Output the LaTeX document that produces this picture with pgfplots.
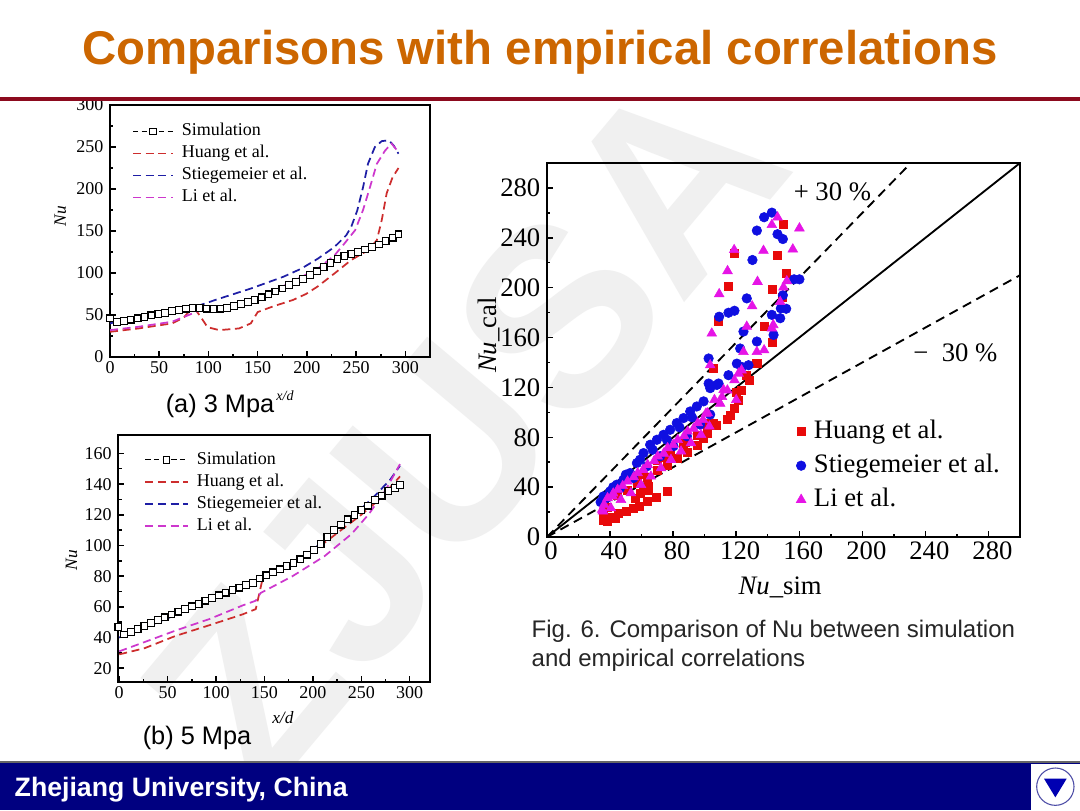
\documentclass[border=0pt]{standalone}
\usepackage{fontspec}
\setmainfont{Liberation Serif}
\newfontfamily\arial{Liberation Sans}
\usepackage{pgfplots}
\pgfplotsset{compat=1.18}
\definecolor{titleor}{RGB}{204,102,0}
\definecolor{rulered}{RGB}{140,10,30}
\definecolor{navyb}{RGB}{0,0,128}
\definecolor{cred}{RGB}{205,45,45}
\definecolor{cblue}{RGB}{30,30,165}
\definecolor{cmag}{RGB}{205,55,205}
\definecolor{sred}{RGB}{232,10,10}
\definecolor{sblue}{RGB}{15,15,225}
\definecolor{smag}{RGB}{230,20,230}
\pgfplotsset{
  panel/.style={scale only axis, axis line style={line width=1.4pt},
    tick align=inside, xtick pos=left, ytick pos=left,
    major tick length=4.5pt, minor tick length=2.5pt,
    tick style={black, line width=1.1pt},
    /pgf/number format/assume math mode=true,
    tick label style={font=\fontsize{13.5}{14}\selectfont},
    yticklabel style={xshift=-1.5pt},
    legend cell align=left,
    legend style={draw=none, fill=none, font=\fontsize{13.5}{16}\selectfont,
      anchor=north west, row sep=2pt, nodes={inner sep=1pt, text height=9.5pt, text depth=3pt},
      /tikz/every odd column/.append style={column sep=5pt}},
  },
  dsh/.style={line width=1.3pt, dash pattern=on 6pt off 3.5pt},
  simst/.style={black, line width=0.8pt, dash pattern=on 4pt off 2.5pt, mark=square*, mark size=2.5pt, mark options={solid, fill=white, draw=black, line width=0.9pt}},
}
\begin{document}
\begin{tikzpicture}
\useasboundingbox (0,0) rectangle (810pt,-607.5pt);
\fill[white] (0,0) rectangle (810pt,-607.5pt);
% watermark
\node[rotate=50, text=black!6, font=\arial\bfseries\fontsize{190}{190}\selectfont] at (348pt,-322pt) {ZJUSA};

% ---------------- (b) 5 MPa
\begin{axis}[panel, at={(88.7pt,-511.5pt)}, anchor=south west, width=233.8pt, height=185.25pt,
  xmin=-1, xmax=321, ymin=11, ymax=172,
  xtick={0,50,...,300}, ytick={20,40,...,160}, minor tick num=1,
  ylabel={\textit{Nu}}, ylabel style={at={(axis description cs:-0.15,0.494)}, anchor=center, font=\fontsize{13}{14}\selectfont},
  xlabel={\textit{x/d}}, xlabel style={at={(axis description cs:0.528,-0.142)}, anchor=center, font=\fontsize{13}{14}\selectfont},
  legend style={at={(axis description cs:0.07,0.95)}},
  legend image code/.code={\draw[#1] (0pt,0pt) -- (32pt,0pt); \draw[#1, only marks] plot coordinates {(16pt,0pt)};},
]
\addplot[simst] coordinates {(-1,47)(5,42)(12,43.5)(19,45.5)(26,47.5)(33,49.5)(40,51.5)(47,53.2)(54,55)(61,56.8)(68,58.5)(75,60.3)(82,62)(89,64)(96,65.8)(103,67.5)(110,69.2)(117,71)(124,72.5)(131,74.3)(138,75.5)(145,78.5)(152,80.5)(159,82.5)(166,84.5)(173,86.5)(180,88.5)(187,91)(194,94)(201,97)(208,101)(215,105.5)(222,110)(229,113.5)(236,117)(243,120)(250,123)(257,126)(264,129.5)(271,132.5)(278,135.5)(285,137.5)(290,139.5)};
\addlegendentry{Simulation}
\addplot[color=cred, dsh] coordinates {(0,29)(26,33)(58,41)(93,48)(127,55)(141,58.5)(148,78)(160,83)(180,89)(200,96)(225,108)(250,120)(265,128)(280,138)(290,145)};
\addlegendentry{Huang et al.}
\addplot[color=cblue, dsh] coordinates {(0,40)(26,46.5)(50,52.5)(75,59.5)(100,66.5)(125,73)(145,78.5)(175,87.5)(200,97)(225,111)(250,124)(265,133)(280,143)(290,152)};
\addlegendentry{Stiegemeier et al.}
\addplot[color=cmag, dsh] coordinates {(0,31)(26,37)(58.5,44.6)(93,52)(127,60.8)(141,64)(146,69)(179,80)(212,93)(240,107.5)(258,120.6)(275,136)(290,153)};
\addlegendentry{Li et al.}
\end{axis}

% ---------------- (a) 3 MPa
\begin{axis}[panel, at={(82.5pt,-267.75pt)}, anchor=south west, width=240pt, height=189pt,
  xmin=0, xmax=325, ymin=0, ymax=300,
  xtick={0,50,...,300}, ytick={0,50,...,300}, minor tick num=1,
  ylabel={\textit{Nu}}, ylabel style={at={(axis description cs:-0.155,0.56)}, anchor=center, font=\fontsize{13}{14}\selectfont},
  xlabel={\textit{x/d}}, xlabel style={at={(axis description cs:0.547,-0.155)}, anchor=center, font=\fontsize{10.5}{12}\selectfont},
  legend style={at={(axis description cs:0.056,0.945)}},
]
\addplot[simst, forget plot] coordinates {(0,46)(7,41.5)(14,43)(21,44.5)(28,46)(35,47.5)(42,49.5)(49,51)(56,52.5)(63,54.5)(70,56)(77,57.5)(84,58.5)(91,58.5)(98,57.5)(105,57)(112,57.5)(119,58.5)(126,60.5)(133,63)(140,65.5)(147,68)(154,71)(161,74.5)(168,78)(175,81.5)(182,85.5)(189,89.5)(196,93)(203,97.5)(210,102)(217,107)(224,112)(231,116.5)(238,120)(245,122.5)(252,125)(259,128)(266,131)(273,134)(280,138)(287,142)(293,146)};
\addplot[color=cred, dsh, forget plot] coordinates {(0,30)(29,34)(63,40)(75,47)(80,54)(87,56)(92,48)(99,35.5)(111,32)(131,34)(143,40)(150,53.5)(165,60)(186,68)(199,75)(211,84)(228,99.5)(245,115.5)(262,127)(271,139)(276,163)(281,195)(287,214)(293,225)};
\addplot[color=cblue, dsh, forget plot] coordinates {(0,40)(29,48)(63,56)(92,62)(111,69.5)(143,81.5)(176,95.5)(194,105)(211,117)(228,131)(240,145)(245,155)(251,174)(257,202)(262,230)(269,250)(276,257)(283,258)(288,252)(293,242)};
\addplot[color=cmag, dsh, forget plot] coordinates {(0,32)(29,36)(63,42)(80,50)(90,55)(100,56.5)(130,63)(160,75)(194,95)(211,105)(228,121)(238,135)(249,151)(257,175)(264,202)(271,230)(279.5,246)(286,254)(293,244)};
\addlegendimage{legend image code/.code={\draw[black, line width=0.8pt, dash pattern=on 4pt off 2.5pt] (0pt,0pt) -- (30pt,0pt); \draw[black, line width=0.9pt, fill=white] (12.5pt,-2.5pt) rectangle (17.5pt,2.5pt);}}
\addlegendentry{Simulation}
\addlegendimage{legend image code/.code={\draw[draw=cred, line width=1.3pt, dash pattern=on 6pt off 3.5pt] (0pt,0pt) -- (30pt,0pt);}}
\addlegendentry{Huang et al.}
\addlegendimage{legend image code/.code={\draw[draw=cblue, line width=1.3pt, dash pattern=on 6pt off 3.5pt] (0pt,0pt) -- (30pt,0pt);}}
\addlegendentry{Stiegemeier et al.}
\addlegendimage{legend image code/.code={\draw[draw=cmag, line width=1.3pt, dash pattern=on 6pt off 3.5pt] (0pt,0pt) -- (30pt,0pt);}}
\addlegendentry{Li et al.}
\end{axis}

% ---------------- (c) scatter
\begin{axis}[panel, at={(410.25pt,-402.75pt)}, anchor=south west, width=354.75pt, height=280.5pt,
  xmin=0, xmax=300, ymin=0, ymax=300,
  xtick={0,40,...,280}, ytick={0,40,...,280}, minor tick num=1,
  tick label style={font=\fontsize{20}{22}\selectfont},
  xticklabel style={xshift=3pt},
  xlabel={\textit{Nu}\_sim}, ylabel={\textit{Nu}\_cal},
  label style={font=\fontsize{20}{22}\selectfont},
  xlabel style={at={(axis description cs:0.493,-0.136)}, anchor=center},
  ylabel style={at={(axis description cs:-0.123,0.54)}, anchor=center},
  legend style={at={(axis description cs:0.518,0.326)}, font=\fontsize{20}{22}\selectfont, row sep=5pt, nodes={inner sep=1pt, text height=14pt, text depth=4.5pt}},
  legend image code/.code={\draw[mark repeat=2,mark phase=2,#1] plot coordinates {(0pt,0pt)(5pt,0pt)(10pt,0pt)};},
]
\addplot[black, line width=1.4pt, forget plot] coordinates {(0,0)(300,300)};
\addplot[black, line width=1.4pt, dash pattern=on 7pt off 4.5pt, forget plot] coordinates {(0,0)(230.77,300)};
\addplot[black, line width=1.4pt, dash pattern=on 7pt off 4.5pt, forget plot] coordinates {(0,0)(300,210)};
\addplot[only marks, mark=square*, mark size=3pt, sred] coordinates {
(35.8,13.4)(38,12.5)(40.5,16.1)(43,15)(45.4,18.8)(50.2,20.9)(54.4,22.8)(58.7,24.9)(63.3,28.9)(69.2,32.1)(76,36.9)(59.1,34.8)(64.4,37.4)(64.4,40.6)(35.8,20)(38,24)(56,31)(61,38)
(44.3,33.5)(50.6,37.5)(57,42.9)(63.3,48.2)(69.7,53.6)(76,57.6)(82.3,63)(88.7,68.3)(95,73.7)(99.3,79)(101.4,83.1)(100.3,91.1)(105.6,91.1)(69.7,61.6)(78.1,68.3)(86.6,75)(95,81.7)(101.4,85.7)(60,50)(75,64)(88,76)
(107.5,89.8)(114.4,94.6)(118.9,103.4)(121.1,110)(123.4,118)(128,126)(132.5,139.4)(105.3,135)(108.7,172.9)(114.7,201.3)(118.9,227.8)(126.3,129.7)(133.3,139.6)(137.7,169.3)(143.1,155.9)(143.1,198.6)(146.2,226.2)(149.3,192.6)(150,251.2)(151.7,211.5)(116,98)(120,116)};
\addlegendentry{Huang et al.}
\addplot[only marks, mark=*, mark size=3.6pt, sblue] coordinates {
(35.8,32.6)(40,36.6)(44.3,42)(48.5,46)(52.7,51.3)(57,59.3)(61.2,67.3)(65.4,74)(69.7,78)(73.9,82)(78.1,86)(82.3,91.4)(86.6,95.4)(90.8,100.7)(95,104.7)(99.3,108.8)(103.5,119.4)(107.7,122)
(37.9,31.3)(46.4,39.3)(54.8,47.3)(63.3,56.7)(71.8,64.8)(80.2,72.8)(88.7,80.8)(97.1,90.2)(103.5,98.2)
(34,28)(42,40)(50,50)(59,62)(67,70)(76,78)(84,88)(92,96)
(142.6,260.2)(137.7,256.5)(133.1,245.8)(146.2,242.9)(149.6,239)(130.3,222.2)(160.1,206.7)(156.7,206.7)(126.7,191.4)(118.9,181.5)(115.1,179.9)(109.2,176.7)(148.3,183.4)(151.7,183.1)(149.6,193.9)(147.9,175.5)(142.6,178.2)(143.7,162.1)(124.6,164.8)(133.1,156.8)(122.5,151.2)(102.5,143.2)(120.4,139.1)(127.8,137.8)(115.1,129.8)(108.8,123.1)(102.5,123.1)(123.6,136.4)};
\addlegendentry{Stiegemeier et al.}
\addplot[only marks, mark=triangle*, mark size=4.2pt, smag] coordinates {
(38.4,31.3)(44.8,38)(51.1,44.6)(57.5,51.3)(63.8,58)(70.2,64.7)(76.5,71.4)(82.9,78)(89.2,84.7)(95.6,91.4)(101.9,99.4)(106.2,110)
(40.5,23.2)(46.9,29.9)(53.2,35.3)(59.6,41.9)(65.9,48.6)(72.3,55.3)(78.6,62)(85,68.7)(91.3,75.4)(97.7,82)(103,88.7)
(35.4,20.7)(36.2,26)(41.6,32.6)(35,22)
(42,35)(48,41)(55,48)(61,54)(68,61)(74,67)(80,74)(87,81)(93,87)(99,94)
(146.2,256.5)(142.6,250.4)(160.1,247.7)(118.7,230.3)(137.3,229.7)(155.9,230.8)(114.5,213.4)(109.2,194.9)(133.5,204.8)(152.1,205.3)(150,200.3)(130.1,185.2)(147.9,188.7)(104.5,163.3)(126.7,168.8)(143.5,170.1)(142.6,167.4)(133.1,148.5)(137.7,149.9)(124.6,148.5)(103.5,137.9)(121.5,131.2)(100.8,99.1)(109.8,107.1)(111,112.4)(114.4,117.7)(118.9,125.8)(123.4,133.8)(120,110)(112,118)};
\addlegendentry{Li et al.}
\node[font=\fontsize{20}{22}\selectfont] at (axis cs:181,277) {+ 30 \%};
\node[font=\fontsize{20}{22}\selectfont] at (axis cs:259,148) {− \ 30 \%};
\end{axis}

% title and decorations
\node[anchor=base, text=titleor, font=\arial\bfseries\fontsize{35.5}{40}\selectfont] at (405pt,-48pt) {Comparisons with empirical correlations};
\draw[rulered, line width=2.8pt] (0,-74.25pt) -- (810pt,-74.25pt);
\node[font=\arial\fontsize{19}{22}\selectfont] at (165pt,-304.5pt) {(a) 3 Mpa};
\node[font=\arial\fontsize{19}{22}\selectfont] at (147.75pt,-553.5pt) {(b) 5 Mpa};
\node[anchor=base west, text=black!85, font=\arial\fontsize{18}{22}\selectfont] at (395.25pt,-477.75pt) {Fig. 6. Comparison of Nu between simulation};
\node[anchor=base west, text=black!85, font=\arial\fontsize{18}{22}\selectfont] at (395.25pt,-499.5pt) {and empirical correlations};
% footer
\fill[navyb] (0,-571.5pt) rectangle (810pt,-607.5pt);
\draw[black!60, line width=0.8pt] (0,-571.5pt) -- (810pt,-571.5pt);
\fill[white] (773pt,-573pt) rectangle (810pt,-607.5pt);
\draw[navyb!70, line width=0.8pt] (791.5pt,-590pt) circle (14pt);
\fill[blue!70!black] (783pt,-584pt) -- (800pt,-584pt) -- (791.5pt,-598pt) -- cycle;
\node[anchor=base west, text=white, font=\arial\bfseries\fontsize{20}{24}\selectfont] at (7.5pt,-597.5pt) {Zhejiang University, China};
\end{tikzpicture}
\end{document}
